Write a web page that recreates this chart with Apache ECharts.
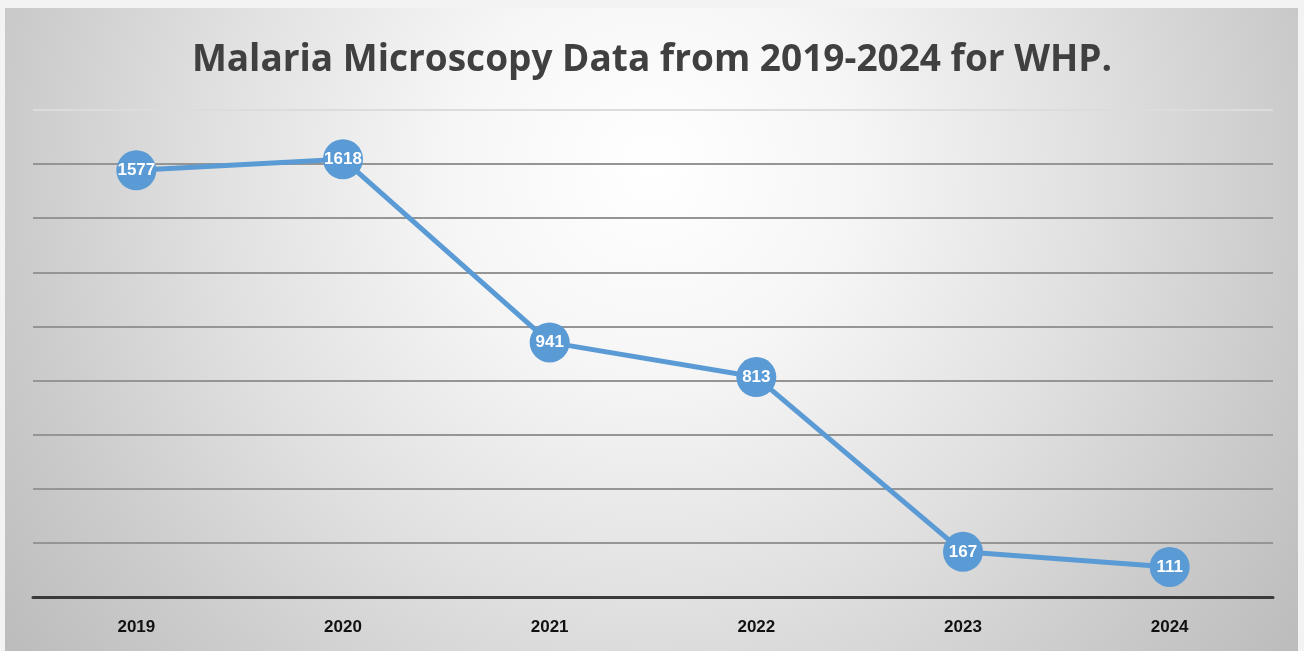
<!DOCTYPE html>
<html><head><meta charset="utf-8">
<script src="https://cdn.jsdelivr.net/npm/echarts@6/dist/echarts.min.js"></script>
<style>html,body{margin:0;padding:0;background:#f3f3f3;}#c{width:1304px;height:651px;}</style>
</head><body><div id="c"></div>
<script>
const titleText = 'Malaria Microscopy Data from 2019-2024 for WHP.';
const years = ['2019','2020','2021','2022','2023','2024'];
const cases = [1577, 1618, 941, 813, 167, 111];
const yMin = 0, yMax = 1800, yStep = 200;

const chart = echarts.init(document.getElementById('c'));
chart.setOption({
  backgroundColor: '#f3f3f3',
  graphic: [{
    type: 'rect', z: -10, silent: true,
    shape: { x: 5, y: 8, width: 1293, height: 643 },
    style: {
      fill: { type: 'radial', x: 0.5, y: 0.25, r: 1.25,
        colorStops: [{offset: 0, color: '#ffffff'}, {offset: 0.25, color: '#f6f6f6'}, {offset: 0.55, color: '#e0e0e0'}, {offset: 0.8, color: '#cbcbcb'}, {offset: 1, color: '#bcbcbc'}] }
    }
  }],
  title: {
    text: titleText, left: 'center', top: 37,
    textStyle: { fontFamily: 'Open Sans, sans-serif', fontWeight: 'bold', fontSize: 37, color: '#404040' }
  },
  grid: { left: 33, right: 31, top: 110, bottom: 54 },
  xAxis: {
    type: 'category', data: years, boundaryGap: true,
    axisLine: { lineStyle: { color: '#3a3a3a', width: 3 } },
    axisTick: { show: false },
    axisLabel: { margin: 22, fontFamily: 'Liberation Sans, Arial, sans-serif', fontWeight: 'bold', fontSize: 17, color: '#111' }
  },
  yAxis: {
    type: 'value', min: yMin, max: yMax, interval: yStep,
    axisLabel: { show: false }, axisLine: { show: false }, axisTick: { show: false },
    splitLine: { lineStyle: { color: ['#959595','#959595','#959595','#959595','#959595','#959595','#959595','#959595','#959595','#dcdcdc'], width: 2 } }
  },
  series: [{
    type: 'line', data: cases,
    symbol: 'circle', symbolSize: 40,
    lineStyle: { color: '#5b9bd5', width: 5 },
    itemStyle: { color: '#5b9bd5' },
    label: { show: true, position: 'inside', color: '#fff', fontWeight: 'bold', fontSize: 17, fontFamily: 'Liberation Sans, Arial, sans-serif' },
    animation: false
  }],
  animation: false
});
</script></body></html>
